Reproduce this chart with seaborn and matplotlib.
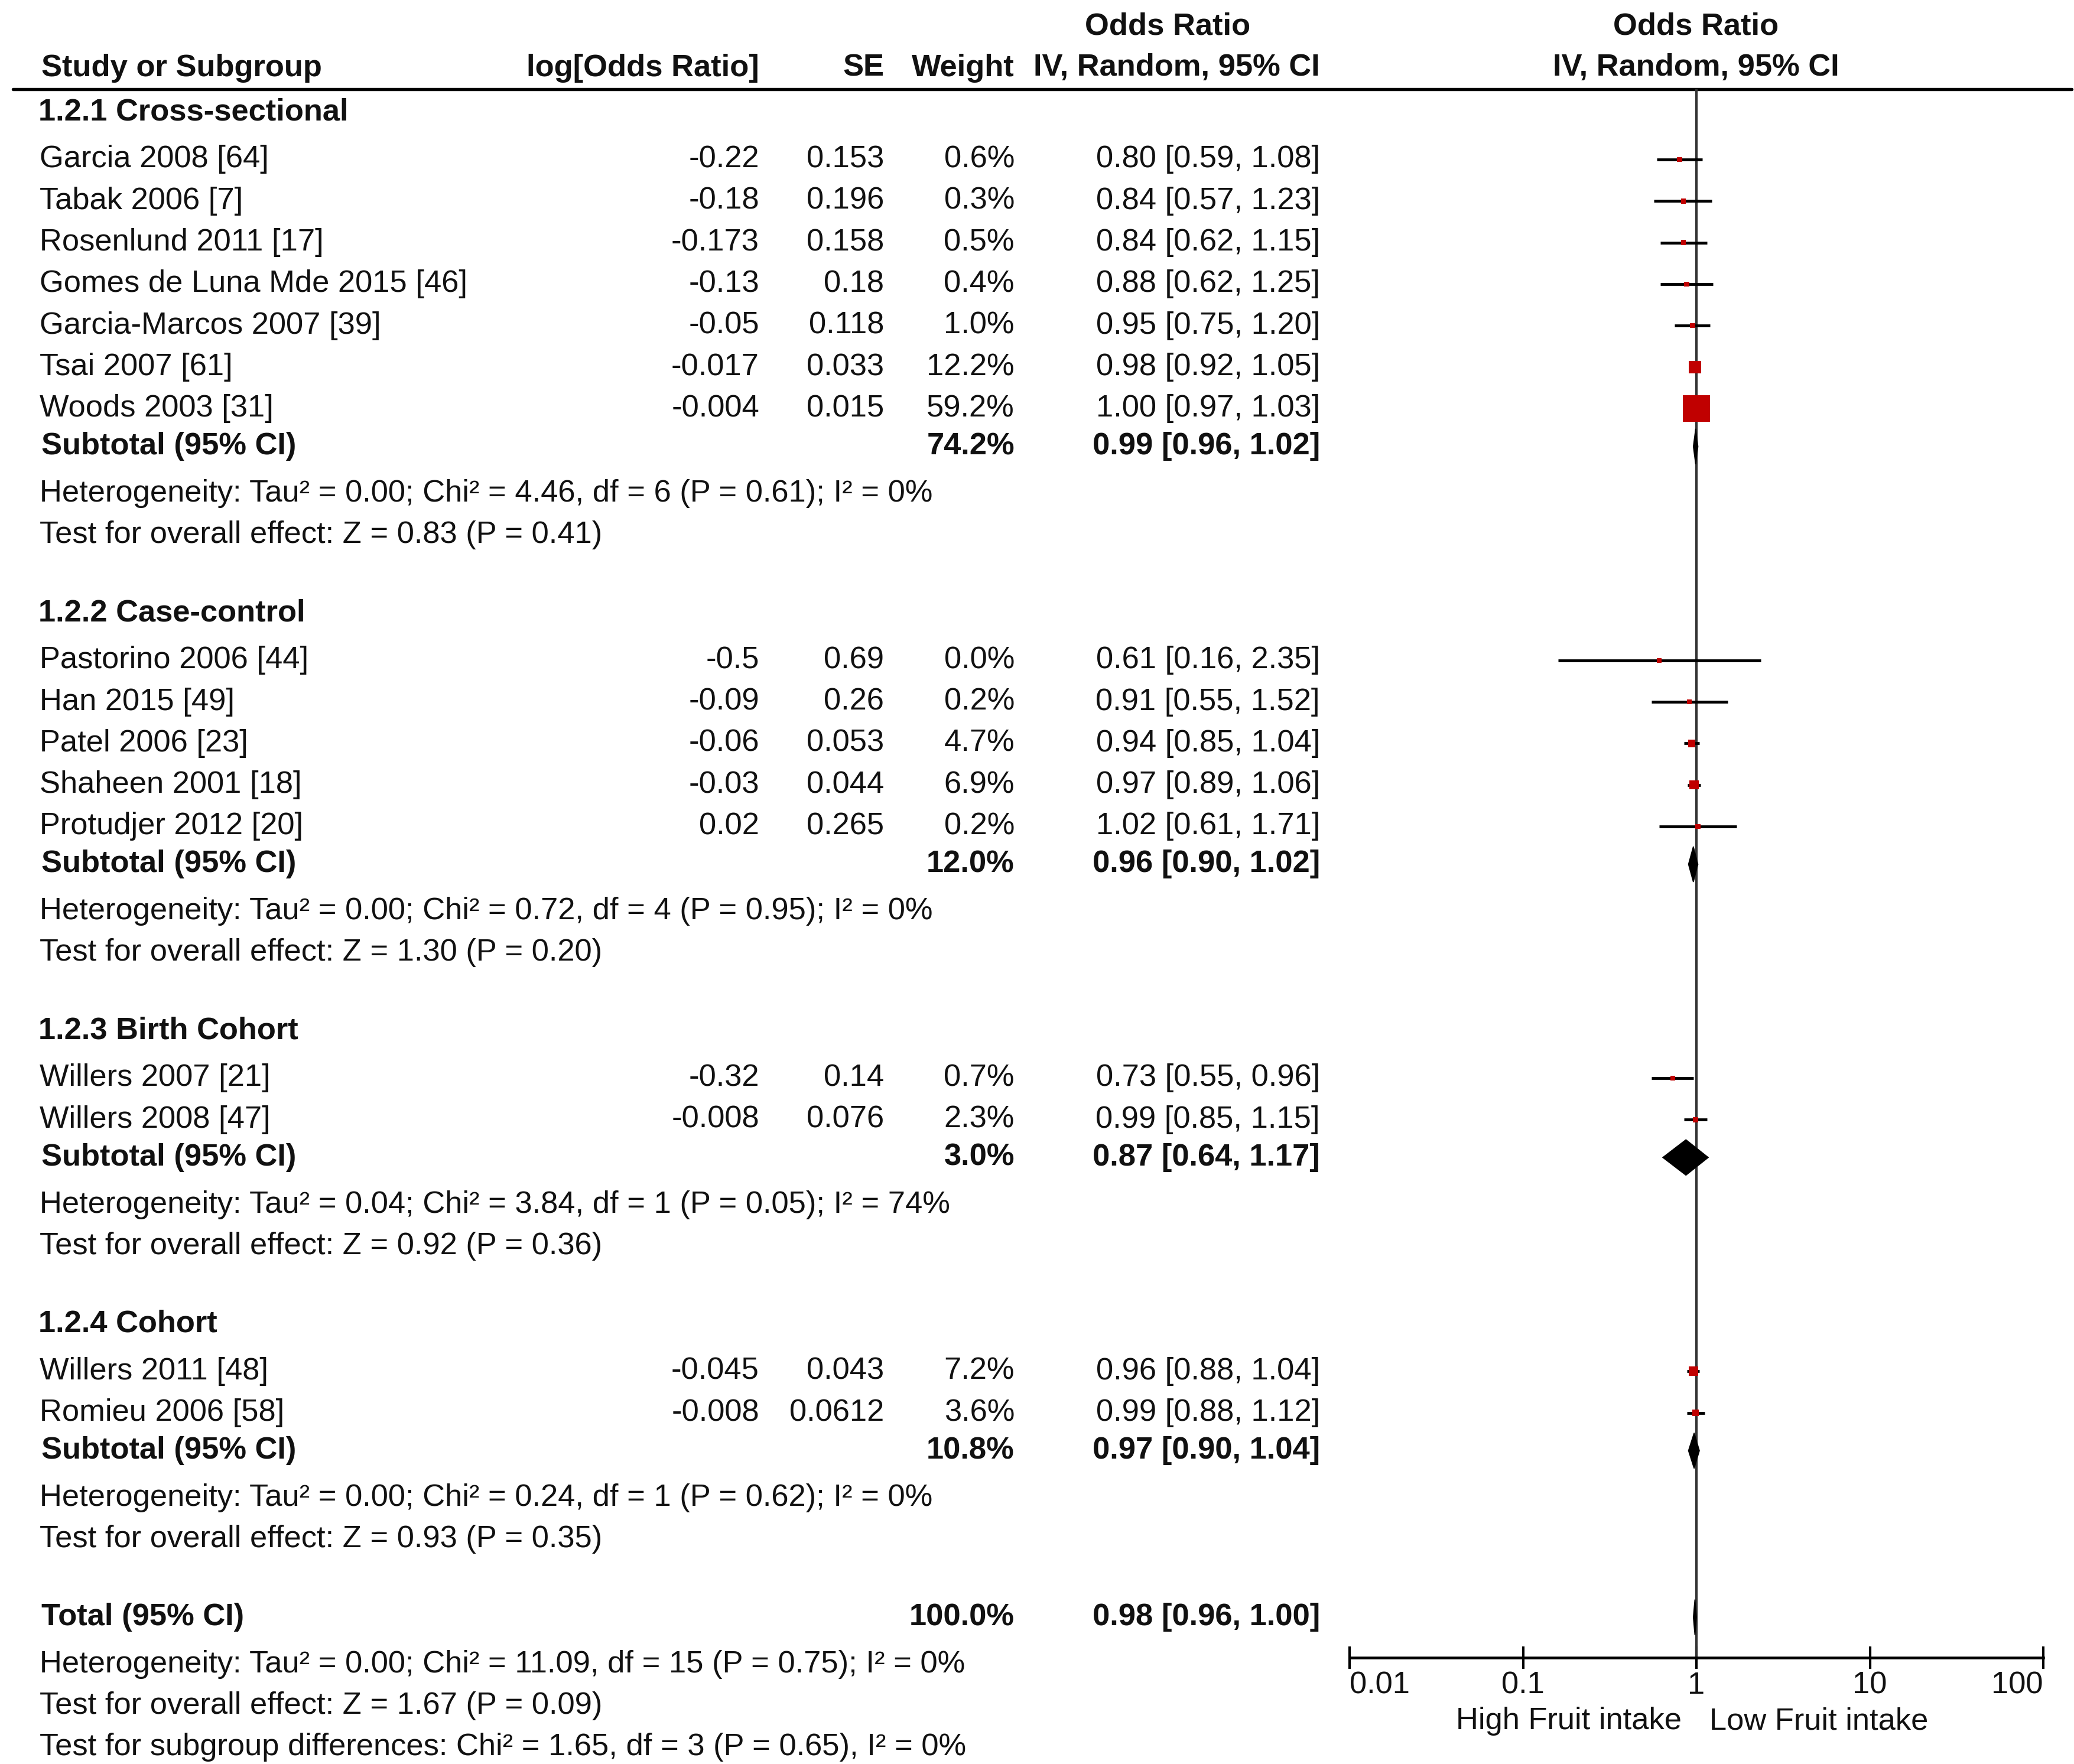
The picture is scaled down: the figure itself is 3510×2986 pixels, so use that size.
import numpy as np
import pandas as pd
import matplotlib
matplotlib.use("Agg")
import matplotlib.pyplot as plt
from matplotlib.ticker import NullLocator
import seaborn as sns

# ---------------- data ----------------
groups = ["1.2.1 Cross-sectional", "1.2.2 Case-control", "1.2.3 Birth Cohort", "1.2.4 Cohort"]

study_names = [
    "Garcia 2008 [64]", "Tabak 2006 [7]", "Rosenlund 2011 [17]", "Gomes de Luna Mde 2015 [46]",
    "Garcia-Marcos 2007 [39]", "Tsai 2007 [61]", "Woods 2003 [31]",
    "Pastorino 2006 [44]", "Han 2015 [49]", "Patel 2006 [23]", "Shaheen 2001 [18]", "Protudjer 2012 [20]",
    "Willers 2007 [21]", "Willers 2008 [47]",
    "Willers 2011 [48]", "Romieu 2006 [58]",
]
study_group = [0, 0, 0, 0, 0, 0, 0, 1, 1, 1, 1, 1, 2, 2, 3, 3]
log_or = [-0.22, -0.18, -0.173, -0.13, -0.05, -0.017, -0.004,
          -0.5, -0.09, -0.06, -0.03, 0.02,
          -0.32, -0.008,
          -0.045, -0.008]
se = [0.153, 0.196, 0.158, 0.18, 0.118, 0.033, 0.015,
      0.69, 0.26, 0.053, 0.044, 0.265,
      0.14, 0.076,
      0.043, 0.0612]
weights = [0.6, 0.3, 0.5, 0.4, 1.0, 12.2, 59.2,
           0.0, 0.2, 4.7, 6.9, 0.2,
           0.7, 2.3,
           7.2, 3.6]
or_est = [0.80, 0.84, 0.84, 0.88, 0.95, 0.98, 1.00,
          0.61, 0.91, 0.94, 0.97, 1.02,
          0.73, 0.99,
          0.96, 0.99]
or_lo = [0.59, 0.57, 0.62, 0.62, 0.75, 0.92, 0.97,
         0.16, 0.55, 0.85, 0.89, 0.61,
         0.55, 0.85,
         0.88, 0.88]
or_hi = [1.08, 1.23, 1.15, 1.25, 1.20, 1.05, 1.03,
         2.35, 1.52, 1.04, 1.06, 1.71,
         0.96, 1.15,
         1.04, 1.12]

sub_weight = [74.2, 12.0, 3.0, 10.8]
sub_est = [0.99, 0.96, 0.87, 0.97]
sub_lo = [0.96, 0.90, 0.64, 0.90]
sub_hi = [1.02, 1.02, 1.17, 1.04]
sub_het = [
    "Heterogeneity: Tau\u00b2 = 0.00; Chi\u00b2 = 4.46, df = 6 (P = 0.61); I\u00b2 = 0%",
    "Heterogeneity: Tau\u00b2 = 0.00; Chi\u00b2 = 0.72, df = 4 (P = 0.95); I\u00b2 = 0%",
    "Heterogeneity: Tau\u00b2 = 0.04; Chi\u00b2 = 3.84, df = 1 (P = 0.05); I\u00b2 = 74%",
    "Heterogeneity: Tau\u00b2 = 0.00; Chi\u00b2 = 0.24, df = 1 (P = 0.62); I\u00b2 = 0%",
]
sub_test = [
    "Test for overall effect: Z = 0.83 (P = 0.41)",
    "Test for overall effect: Z = 1.30 (P = 0.20)",
    "Test for overall effect: Z = 0.92 (P = 0.36)",
    "Test for overall effect: Z = 0.93 (P = 0.35)",
]
total_weight = 100.0
total_est, total_lo, total_hi = 0.98, 0.96, 1.00
total_het = "Heterogeneity: Tau\u00b2 = 0.00; Chi\u00b2 = 11.09, df = 15 (P = 0.75); I\u00b2 = 0%"
total_test = "Test for overall effect: Z = 1.67 (P = 0.09)"
subgroup_test = "Test for subgroup differences: Chi\u00b2 = 1.65, df = 3 (P = 0.65), I\u00b2 = 0%"

xticks = [0.01, 0.1, 1, 10, 100]
xtick_labels = ["0.01", "0.1", "1", "10", "100"]
left_label = "High Fruit intake"
right_label = "Low Fruit intake"

# ---------------- style ----------------
sns.set_theme(style="white")
plt.rcParams["font.family"] = ["Liberation Sans", "DejaVu Sans"]
FS = 12.6
TXT = "#111111"
RED = "#C00000"

W, H = 3510, 2986
fig = plt.figure(figsize=(W / 300, H / 300), dpi=300)
fig.patch.set_facecolor("white")

ax = fig.add_axes([0, 0, 1, 1])
ax.set_xlim(0, W)
ax.set_ylim(H, 0)
ax.axis("off")

# forest axes geometry (pixel units of the figure)
FX0, FX1 = 2284, 3458
RULE_Y, AXIS_Y = 151, 2806
fa = fig.add_axes([FX0 / W, 1 - AXIS_Y / H, (FX1 - FX0) / W, (AXIS_Y - RULE_Y) / H])
fa.patch.set_alpha(0)
fa.set_xscale("log")
fa.set_xlim(0.01, 100)
fa.set_ylim(AXIS_Y, RULE_Y)

# ---------------- row layout ----------------
Y0, D_HEAD, D_STUDY, D_SUB, D_HET, D_TEST, D_GAP = 190, 80, 70.3, 64, 80, 70, 132
y = Y0
group_y, study_y, sub_y, het_y, test_y = [], [], [], [], []
for g in range(len(groups)):
    group_y.append(y)
    y += D_HEAD
    idx = [i for i in range(len(study_names)) if study_group[i] == g]
    for k, i in enumerate(idx):
        study_y.append(y)
        if k < len(idx) - 1:
            y += D_STUDY
    y += D_SUB
    sub_y.append(y)
    y += D_HET
    het_y.append(y)
    y += D_TEST
    test_y.append(y)
    y += D_GAP
total_y = y
total_het_y = total_y + D_HET
total_test_y = total_het_y + D_TEST
subgroup_test_y = total_test_y + D_TEST

# column positions
X_NAME = 67
X_LOG = 1285
X_SE = 1496
X_W = 1717
X_CI = 2234
X_OR_HDR = 1976
X_PLOT_HDR = 2870

def t(x, yy, s, ha="left", bold=False):
    ax.text(x, yy, s, ha=ha, va="center", fontsize=FS, color=TXT,
            fontweight="bold" if bold else "normal")

# headers
t(X_OR_HDR, 45, "Odds Ratio", ha="center", bold=True)
t(X_PLOT_HDR, 45, "Odds Ratio", ha="center", bold=True)
t(70, 115, "Study or Subgroup", bold=True)
t(X_LOG, 115, "log[Odds Ratio]", ha="right", bold=True)
t(X_SE, 115, "SE", ha="right", bold=True)
t(X_W, 115, "Weight", ha="right", bold=True)
t(X_CI, 115, "IV, Random, 95% CI", ha="right", bold=True)
t(X_PLOT_HDR, 115, "IV, Random, 95% CI", ha="center", bold=True)
ax.axhline(RULE_Y, xmin=22 / W, xmax=3506 / W, color="black", lw=1.3)

def ci_text(e, l, h):
    return f"{e:.2f} [{l:.2f}, {h:.2f}]"

for g in range(len(groups)):
    t(65, group_y[g], groups[g], bold=True)
    t(70, sub_y[g], "Subtotal (95% CI)", bold=True)
    t(X_W, sub_y[g], f"{sub_weight[g]:.1f}%", ha="right", bold=True)
    t(X_CI, sub_y[g], ci_text(sub_est[g], sub_lo[g], sub_hi[g]), ha="right", bold=True)
    t(X_NAME, het_y[g], sub_het[g])
    t(X_NAME, test_y[g], sub_test[g])

for i, name in enumerate(study_names):
    yy = study_y[i]
    t(X_NAME, yy, name)
    t(X_LOG, yy, f"{log_or[i]:g}", ha="right")
    t(X_SE, yy, f"{se[i]:g}", ha="right")
    t(X_W, yy, f"{weights[i]:.1f}%", ha="right")
    t(X_CI, yy, ci_text(or_est[i], or_lo[i], or_hi[i]), ha="right")

t(70, total_y, "Total (95% CI)", bold=True)
t(X_W, total_y, f"{total_weight:.1f}%", ha="right", bold=True)
t(X_CI, total_y, ci_text(total_est, total_lo, total_hi), ha="right", bold=True)
t(X_NAME, total_het_y, total_het)
t(X_NAME, total_test_y, total_test)
t(X_NAME, subgroup_test_y, subgroup_test)

# ---------------- forest plot ----------------
fa.axvline(1, color="#333333", lw=1.0, zorder=1)
fa.hlines(study_y, or_lo, or_hi, color="black", lw=1.15, zorder=2)

df = pd.DataFrame({"or": or_est, "y": study_y, "w": weights})
side_px = np.maximum(8.5, 5.85 * np.sqrt(df["w"].to_numpy()))
side_pt = side_px * 72 / 300
sns.scatterplot(data=df, x="or", y="y", s=side_pt ** 2, marker="s", color=RED,
                linewidth=0, ax=fa, legend=False, zorder=3)

HALF_H = 30
for e, l, h, yy in zip(sub_est + [total_est], sub_lo + [total_lo], sub_hi + [total_hi], sub_y + [total_y]):
    fa.fill([l, e, h, e], [yy, yy - HALF_H, yy, yy + HALF_H], color="black", lw=0.4, zorder=3)

for s in ["top", "left", "right"]:
    fa.spines[s].set_visible(False)
fa.spines["bottom"].set_color("black")
fa.spines["bottom"].set_linewidth(1.1)
fa.set_yticks([])
fa.set_xticks(xticks)
fa.set_xticklabels(xtick_labels)
fa.xaxis.set_minor_locator(NullLocator())
fa.tick_params(axis="x", direction="inout", length=9, width=1.0, color="black",
               labelsize=FS, labelcolor=TXT, pad=1, bottom=True)
labs = fa.get_xticklabels()
labs[0].set_ha("left")
labs[-1].set_ha("right")
fa.set_xlabel("")
fa.set_ylabel("")

t(2846, 2914, left_label, ha="right")
t(2893, 2914, right_label, ha="left")

fig.savefig("out.png", dpi=300, facecolor="white")
